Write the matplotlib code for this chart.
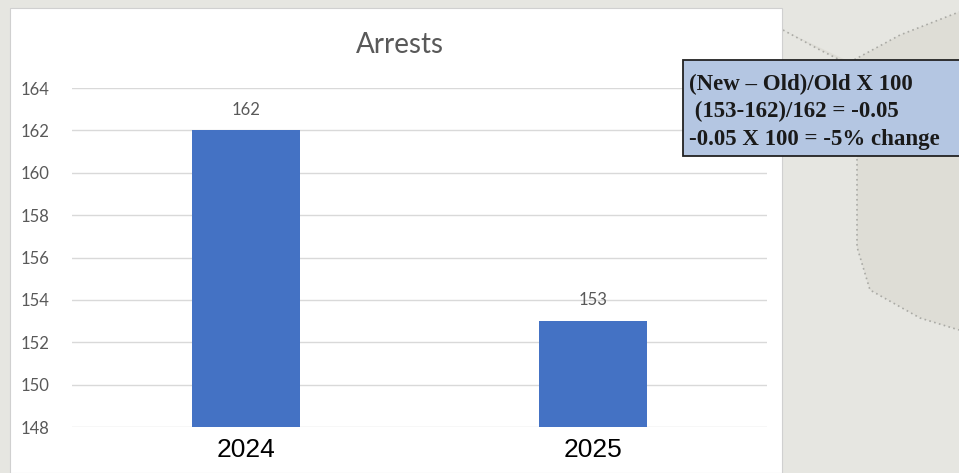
import matplotlib.pyplot as plt
from matplotlib.patches import Rectangle
from matplotlib.path import Path
from matplotlib.patches import PathPatch

# chart data
years = ['2024', '2025']
arrests = [162, 153]
y_ticks = [148, 150, 152, 154, 156, 158, 160, 162, 164]
note_lines = ['(New \u2013 Old)/Old X 100',
              ' (153-162)/162 = -0.05',
              '-0.05 X 100 = -5% change']

W, H = 959, 473


def fx(px):
    return px / W


def fy(py):
    # pixel row from top -> figure fraction from bottom
    return 1 - py / H


def main():
    fig = plt.figure(figsize=(W / 100, H / 100), dpi=100)
    fig.patch.set_facecolor('#e6e6e1')

    # decorative darker patch on the right background
    verts = [(783, 30), (820, 50), (850, 65), (857, 120), (857, 247),
             (870, 290), (920, 318), (959, 330), (959, 12), (900, 35),
             (850, 62)]
    path = Path([(fx(x), fy(y)) for x, y in verts] + [(0, 0)],
                [Path.MOVETO] + [Path.LINETO] * (len(verts) - 1) + [Path.CLOSEPOLY])
    fig.patches.append(PathPatch(path, transform=fig.transFigure,
                                 facecolor='#deddd6', edgecolor='none', zorder=0))
    dots = [(783, 30), (820, 50), (850, 65), (857, 120), (857, 247),
            (870, 290), (920, 318), (959, 330)]
    fig.add_artist(plt.Line2D([fx(x) for x, y in dots], [fy(y) for x, y in dots],
                              transform=fig.transFigure, color='#aaaaa5',
                              linestyle=(0, (1, 2)), lw=1.2, zorder=0.5))
    dots2 = [(850, 62), (900, 35), (959, 12)]
    fig.add_artist(plt.Line2D([fx(x) for x, y in dots2], [fy(y) for x, y in dots2],
                              transform=fig.transFigure, color='#aaaaa5',
                              linestyle=(0, (1, 2)), lw=1.2, zorder=0.5))

    # white chart panel
    fig.patches.append(Rectangle((fx(10), 0), fx(782) - fx(10), fy(8),
                                 transform=fig.transFigure, facecolor='white',
                                 edgecolor='#d0d0d0', lw=0.8, zorder=1))

    ax = fig.add_axes([fx(72), fy(427), fx(767) - fx(72), fy(88) - fy(427)])
    ax.set_zorder(2)
    ax.set_facecolor('none')

    x = list(range(len(years)))
    bars = ax.bar(x, arrests, width=0.31, color='#4472c4', zorder=3)
    for b, v in zip(bars, arrests):
        ax.annotate(str(v), (b.get_x() + b.get_width() / 2, v),
                    xytext=(0, 15), textcoords='offset points',
                    ha='center', va='center', fontsize=12,
                    family='Lato', color='#595959')

    ax.set_xlim(-0.5, 1.5)
    ax.set_ylim(148, 164)
    ax.set_yticks(y_ticks)
    ax.set_yticklabels([str(t) for t in y_ticks], family='Lato',
                       fontsize=12, color='#595959')
    ax.set_xticks(x)
    ax.set_xticklabels(years, family='Liberation Sans', fontsize=19,
                       color='black')
    ax.tick_params(length=0)
    ax.tick_params(axis='y', pad=16)
    ax.tick_params(axis='x', pad=8)
    ax.grid(axis='y', color='#d9d9d9', lw=1, zorder=0)
    for s in ax.spines.values():
        s.set_visible(False)

    fig.text(fx(400), fy(45), 'Arrests', ha='center', va='center',
             family='Lato', fontsize=20, color='#595959', zorder=3)

    # formula note box
    fig.patches.append(Rectangle((fx(683), fy(156)), fx(962) - fx(683),
                                 fy(60) - fy(156), transform=fig.transFigure,
                                 facecolor='#b4c6e2', edgecolor='#222222',
                                 lw=1.3, zorder=4))
    for i, line in enumerate(note_lines):
        fig.text(fx(689), fy(84 + i * 27.5), line, ha='left', va='center',
                 family='Liberation Serif', fontweight='bold', fontsize=16.5,
                 color='#1a1a1a', zorder=5)

    fig.savefig('out.png', dpi=100, facecolor=fig.get_facecolor())


if __name__ == "__main__":
    main()
